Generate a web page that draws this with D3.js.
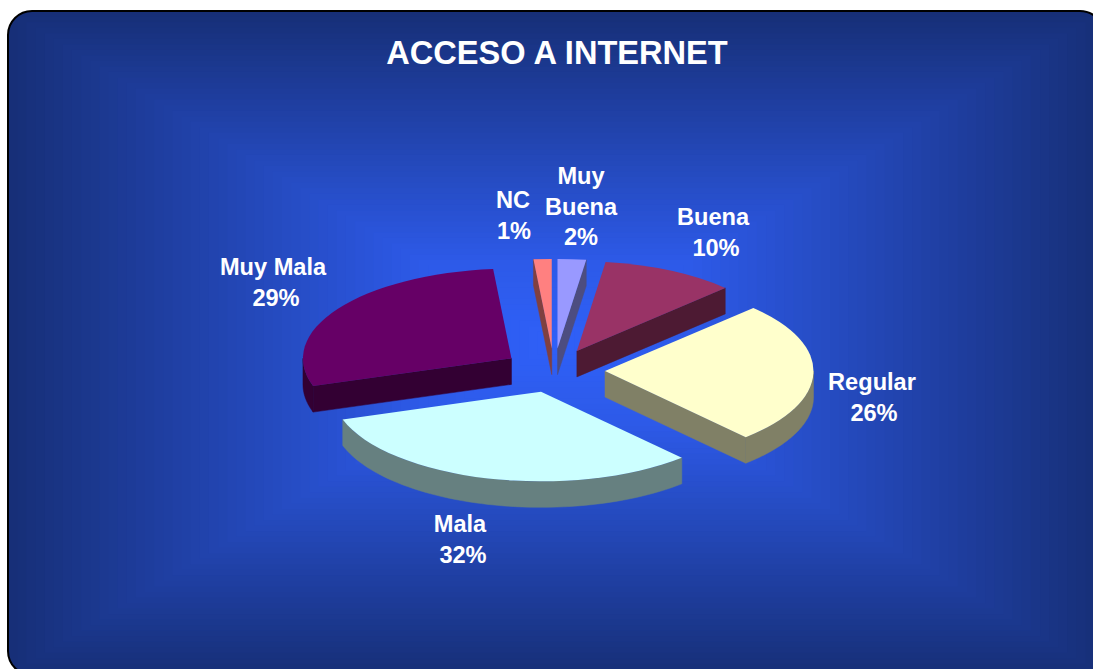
<!DOCTYPE html>
<html><head><meta charset="utf-8">
<script src="https://cdn.jsdelivr.net/npm/d3@7"></script>
<style>html,body{margin:0;padding:0;background:#fff;overflow:hidden}svg{display:block}</style>
</head><body><div id="chart"></div>
<script>
const titleText = "ACCESO A INTERNET";
const categories = ["Muy Buena","Buena","Regular","Mala","Muy Mala","NC"];
const values = [2.2,10.4,25.6,31.8,28.6,1.4];
const topColors = ["#9999FF","#993366","#FFFFCC","#CCFFFF","#660066","#FF8080"];
const labelLines = [["Muy","Buena"],["Buena"],["Regular"],["Mala"],["Muy Mala"],["NC"]];
const labelCenters = [[581,176],[713,217],[872,382],[460,524],[273,267],[513,200]];
const percentNudge = [0,3,2,3,3,1];

const W=1093,H=669;
const svg=d3.select("#chart").append("svg").attr("width",W).attr("height",H);
const defs=svg.append("defs");
defs.append("clipPath").attr("id","frame").append("rect")
  .attr("x",8).attr("y",11).attr("width",1096).attr("height",664).attr("rx",24);

// rectangular path gradient background
const bg=svg.append("g").attr("clip-path","url(#frame)");
const steps=d3.range(0,1.0001,1/60);
const bgColor=d3.scaleLinear().domain([0,0.25,1]).range(["#2f60f8","#2d5ae8","#172f78"]).interpolate(d3.interpolateRgb);
const gcx=556,gcy=343,hw=548,hh=332;
bg.selectAll("rect").data(steps.slice().reverse()).join("rect")
  .attr("x",t=>gcx-hw*t).attr("y",t=>gcy-hh*t)
  .attr("width",t=>2*hw*t).attr("height",t=>2*hh*t)
  .attr("fill",t=>bgColor(t));
svg.append("rect").attr("x",8).attr("y",11).attr("width",1096).attr("height",664).attr("rx",24)
  .attr("fill","none").attr("stroke","#000").attr("stroke-width",2);

svg.append("text").attr("x",557).attr("y",64).attr("text-anchor","middle")
  .attr("font-family","Liberation Sans").attr("font-weight","bold").attr("font-size",32.6)
  .attr("fill","#fff").text(titleText);

// pie geometry
const cx=554,cy=370.5,rx=208.5,tilt=0.43,explode=51,depth=26;
const pie=d3.pie().sort(null).value((d,i)=>values[i]);
const arcs=pie(categories);
const arc=d3.arc().innerRadius(0).outerRadius(rx);
const px=(r,a,c)=>c.x+r*Math.sin(a);
const py=(r,a,c)=>c.y-tilt*r*Math.cos(a);
const lineGen=d3.line().x(d=>d[0]).y(d=>d[1]);

const order=arcs.map((d,i)=>i).sort((a,b)=>{
  const m=i=>(arcs[i].startAngle+arcs[i].endAngle)/2;
  return (-Math.cos(m(a)))-(-Math.cos(m(b)));
});
const gPie=svg.append("g");
order.forEach(i=>{
  const d=arcs[i],mid=(d.startAngle+d.endAngle)/2;
  const c={x:cx+explode*Math.sin(mid),y:cy-tilt*explode*Math.cos(mid)};
  const side=d3.color(topColors[i]).darker(0);
  side.r*=0.5;side.g*=0.5;side.b*=0.5;
  const g=gPie.append("g");
  const wall=pts=>{
    const top=pts, bot=pts.slice().reverse().map(p=>[p[0],p[1]+depth]);
    g.append("path").attr("d",lineGen(top.concat(bot))+"Z").attr("fill",side.formatHex()).attr("stroke",side.formatHex()).attr("stroke-width",0.5);
  };
  const ctr=[c.x,c.y];
  if(Math.sin(d.startAngle)<-1e-6) wall([ctr,[px(rx,d.startAngle,c),py(rx,d.startAngle,c)]]);
  if(Math.sin(d.endAngle)>1e-6) wall([ctr,[px(rx,d.endAngle,c),py(rx,d.endAngle,c)]]);
  const a0=Math.max(d.startAngle,Math.PI/2),a1=Math.min(d.endAngle,3*Math.PI/2);
  if(a1>a0){
    const pts=d3.range(a0,a1,(a1-a0)/60).concat([a1]).map(a=>[px(rx,a,c),py(rx,a,c)]);
    wall(pts);
  }
  g.append("path").attr("d",arc(d))
    .attr("transform",`translate(${c.x},${c.y}) scale(1,${tilt})`)
    .attr("fill",topColors[i]);
});

// labels
const gL=svg.append("g").attr("font-family","Liberation Sans").attr("font-weight","bold")
  .attr("font-size",23.6).attr("fill","#fff").attr("text-anchor","middle");
const total=d3.sum(values);
const pct=d3.format(".0f");
categories.forEach((n,i)=>{
  const t=gL.append("text").attr("x",labelCenters[i][0]).attr("y",labelCenters[i][1]+8);
  labelLines[i].forEach((s,k)=>t.append("tspan").attr("x",labelCenters[i][0]).attr("dy",k?30.5:0).text(s));
  t.append("tspan").attr("x",labelCenters[i][0]+percentNudge[i]).attr("dy",30.5).text(pct(values[i]/total*100)+"%");
});
</script></body></html>
